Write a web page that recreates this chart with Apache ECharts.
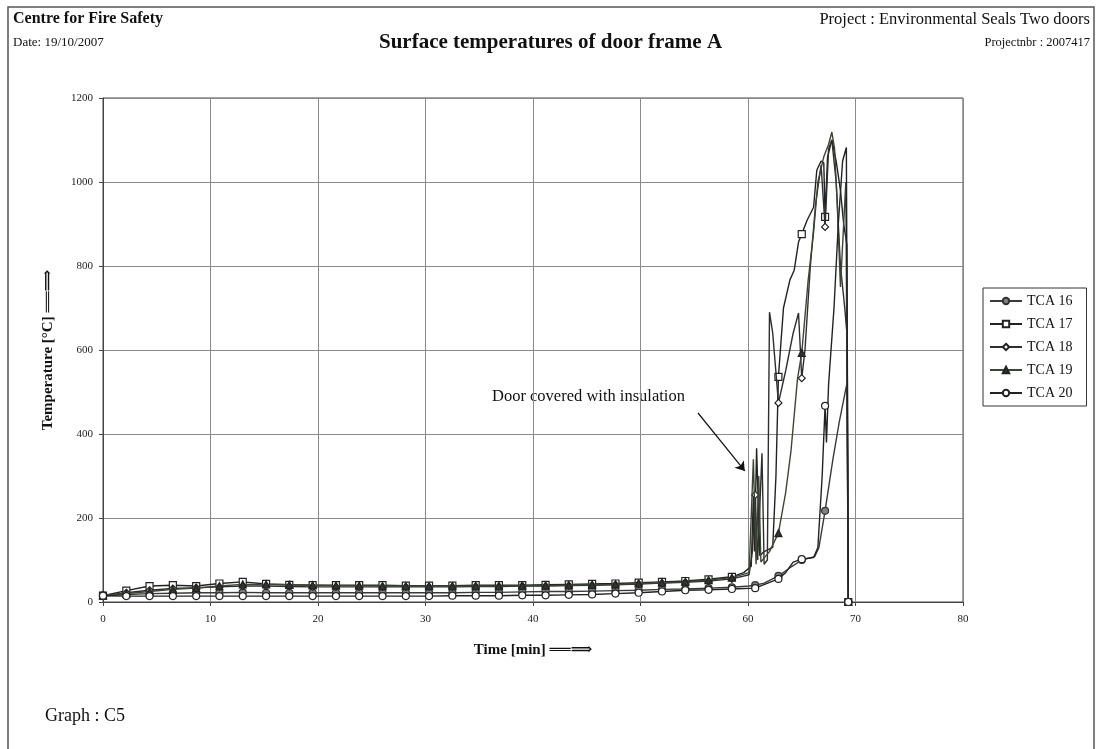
<!DOCTYPE html>
<html>
<head>
<meta charset="utf-8">
<script src="https://cdn.jsdelivr.net/npm/echarts@6/dist/echarts.min.js"></script>
<style>
html,body{margin:0;padding:0;background:#fff;}
#c{width:1101px;height:749px;}
</style>
</head>
<body>
<div id="c"></div>
<script>
// ---- data (time [min], temperature [°C]) ----
const seriesNames = ['TCA 16', 'TCA 17', 'TCA 18', 'TCA 19', 'TCA 20'];
const xTicks = [0, 10, 20, 30, 40, 50, 60, 70, 80];
const yTicks = [0, 200, 400, 600, 800, 1000, 1200];

const tca16 = [[0,15],[2.17,18],[4.33,20],[6.5,21],[8.67,22],[10.83,22],[13,23],[15.17,22],[17.33,22],[19.5,22],[21.67,22],[23.83,22],[26,22],[28.17,22],[30.33,22],[32.5,22],[34.67,23],[36.83,23],[39,24],[41.17,25],[43.33,25],[45.5,26],[47.67,27],[49.83,28],[52,30],[54.17,31],[56.33,33],[58.5,35],[60.1,38],[60.67,40],[61.5,45],[62.83,62],[64.1,85],[65,100],[66.2,108],[66.6,130],[67.17,217],[67.9,340],[68.5,430],[69.2,520],[69.33,0]];
const tca17 = [[0,15],[2.17,27],[4.33,38],[6.5,40],[8.67,38],[10.83,44],[13,48],[15.17,43],[17.33,41],[19.5,40],[21.67,40],[23.83,40],[26,40],[28.17,39],[30.33,39],[32.5,39],[34.67,40],[36.83,40],[39,40],[41.17,41],[43.33,42],[45.5,43],[47.67,44],[49.83,46],[52,48],[54.17,50],[56.33,54],[58.5,60],[59.6,70],[60.3,85],[60.5,250],[60.6,120],[60.8,366],[61.1,110],[61.5,120],[62.3,130],[62.6,300],[62.83,536],[63.3,700],[63.9,767],[64.3,790],[64.7,857],[65,876],[65.5,909],[66.1,940],[66.4,1028],[66.8,1050],[67.05,1045],[67.17,917],[67.4,1060],[67.8,1100],[68.2,1050],[68.6,980],[68.9,900],[69.2,850],[69.33,0]];
const tca18 = [[0,15],[2.17,22],[4.33,28],[6.5,32],[8.67,34],[10.83,36],[13,38],[15.17,38],[17.33,37],[19.5,36],[21.67,36],[23.83,36],[26,36],[28.17,36],[30.33,36],[32.5,36],[34.67,37],[36.83,37],[39,38],[41.17,38],[43.33,39],[45.5,40],[47.67,41],[49.83,43],[52,45],[54.17,47],[56.33,50],[58.5,55],[60.1,65],[60.4,120],[60.67,255],[60.9,100],[61.3,354],[61.5,90],[61.8,100],[62.0,690],[62.3,640],[62.83,474],[63.5,550],[64.2,640],[64.7,688],[65,533],[65.3,600],[65.8,800],[66.3,950],[66.8,1040],[67.17,893],[67.5,1080],[67.8,1100],[68.2,1000],[68.6,800],[69.0,700],[69.2,640],[69.33,0]];
const tca19 = [[0,15],[2.17,20],[4.33,25],[6.5,30],[8.67,33],[10.83,38],[13,42],[15.17,42],[17.33,41],[19.5,40],[21.67,39],[23.83,39],[26,38],[28.17,38],[30.33,38],[32.5,38],[34.67,38],[36.83,38],[39,39],[41.17,39],[43.33,40],[45.5,41],[47.67,42],[49.83,44],[52,46],[54.17,48],[56.33,52],[58.5,58],[60.1,70],[60.5,340],[60.75,90],[61.0,300],[61.2,95],[61.5,105],[62.0,120],[62.83,164],[63.5,260],[64.0,360],[64.6,530],[65,593],[65.3,680],[65.6,767],[66.1,880],[66.5,1000],[67.05,1060],[67.5,1090],[67.8,1119],[68.05,1080],[68.3,950],[68.6,750],[68.9,900],[69.1,1000],[69.33,0]];
const tca20 = [[0,15],[2.17,14],[4.33,14],[6.5,14],[8.67,14],[10.83,14],[13,14],[15.17,14],[17.33,14],[19.5,14],[21.67,14],[23.83,14],[26,14],[28.17,14],[30.33,14],[32.5,15],[34.67,15],[36.83,15],[39,16],[41.17,16],[43.33,17],[45.5,18],[47.67,20],[49.83,22],[52,25],[54.17,28],[56.33,29],[58.5,31],[60.67,33],[62.83,55],[63.5,70],[64.2,95],[65,102],[66.1,106],[66.5,130],[66.9,300],[67.17,467],[67.3,380],[67.5,520],[68.0,700],[68.4,900],[68.8,1050],[69.15,1082],[69.33,0]];

// annotation arrow (data coordinates)
const arrowFrom = [55.35, 450];
const arrowTo = [59.7, 312];

const serif = '"Liberation Serif", "DejaVu Serif", serif';
const chart = echarts.init(document.getElementById('c'));

function markerSize(v) {
  const k = v[0] * 60 / 130;
  return Math.abs(k - Math.round(k)) < 0.02 ? 7 : 0;
}

const styles = [
  { symbol: 'circle', line: '#3a3a3a', fill: '#808080', border: '#333' },
  { symbol: 'rect', line: '#222', fill: '#fff', border: '#222' },
  { symbol: 'diamond', line: '#2e2e2e', fill: '#fff', border: '#222' },
  { symbol: 'triangle', line: '#3b4634', fill: '#333', border: '#222' },
  { symbol: 'circle', line: '#222', fill: '#fff', border: '#222' }
];
const datasets = [tca16, tca17, tca18, tca19, tca20];

const series = seriesNames.map((name, i) => ({
  name: name,
  type: 'line',
  data: datasets[i],
  symbol: styles[i].symbol,
  symbolSize: markerSize,
  showAllSymbol: true,
  animation: false,
  lineStyle: { color: styles[i].line, width: 1.4 },
  itemStyle: { color: styles[i].fill, borderColor: styles[i].border, borderWidth: 1.2 },
  emphasis: { disabled: true },
  z: 3 + i
}));

series[4].markLine = {
  silent: true,
  symbol: ['none', 'arrow'],
  symbolSize: 9,
  label: { show: false },
  lineStyle: { color: '#111', width: 1.2, type: 'solid' },
  data: [[{ coord: arrowFrom }, { coord: arrowTo }]]
};

const arrowTxt = '\u2550\u2550\u27F9';

chart.setOption({
  animation: false,
  backgroundColor: '#fff',
  grid: { left: 103, top: 98, width: 860, height: 504, show: true, borderColor: '#444', borderWidth: 1 },
  xAxis: {
    type: 'value', min: 0, max: 80, interval: 10,
    name: 'Time [min] ' + arrowTxt, nameLocation: 'middle', nameGap: 41,
    nameTextStyle: { fontFamily: serif, fontSize: 15, fontWeight: 'bold', color: '#111' },
    axisLine: { onZero: false, lineStyle: { color: '#444' } },
    axisTick: { show: true, length: 4, lineStyle: { color: '#444' } },
    axisLabel: { fontFamily: serif, fontSize: 11, color: '#222', margin: 12,
      formatter: v => xTicks.includes(v) ? String(v) : '' },
    splitLine: { show: true, lineStyle: { color: '#8a8a8a', width: 1 } }
  },
  yAxis: {
    type: 'value', min: 0, max: 1200, interval: 200,
    name: 'Temperature [\u00B0C] ' + arrowTxt, nameLocation: 'middle', nameGap: 47, nameRotate: 90,
    nameTextStyle: { fontFamily: serif, fontSize: 15, fontWeight: 'bold', color: '#111' },
    axisLine: { show: true, lineStyle: { color: '#444' } },
    axisTick: { show: true, length: 4, lineStyle: { color: '#444' } },
    axisLabel: { fontFamily: serif, fontSize: 11, color: '#222', margin: 10,
      formatter: v => yTicks.includes(v) ? String(v) : '' },
    splitLine: { show: true, lineStyle: { color: '#8a8a8a', width: 1 } }
  },
  legend: {
    orient: 'vertical', left: 983, top: 288,
    data: seriesNames,
    itemWidth: 32, itemHeight: 8, itemGap: 9,
    padding: [6, 14, 6, 6],
    borderColor: '#333', borderWidth: 1,
    textStyle: { fontFamily: serif, fontSize: 14, color: '#111' },
    selectedMode: false
  },
  graphic: [
    { type: 'rect', shape: { x: 8, y: 7, width: 1086, height: 760 },
      style: { fill: 'none', stroke: '#555', lineWidth: 1.5 }, silent: true, z: 0 },
    { type: 'text', left: 13, top: 11,
      style: { text: 'Centre for Fire Safety', font: 'bold 16px ' + serif, fill: '#111' } },
    { type: 'text', left: 13, top: 36,
      style: { text: 'Date: 19/10/2007', font: '13px ' + serif, fill: '#111' } },
    { type: 'text', left: 'center', top: 32,
      style: { text: 'Surface temperatures of door frame A', font: 'bold 21px ' + serif, fill: '#111', x: 4 } },
    { type: 'text', right: 11, top: 11,
      style: { text: 'Project : Environmental Seals Two doors', font: '16.5px ' + serif, fill: '#111' } },
    { type: 'text', right: 11, top: 36,
      style: { text: 'Projectnbr : 2007417', font: '12.5px ' + serif, fill: '#111' } },
    { type: 'text', left: 492, top: 388,
      style: { text: 'Door covered with insulation', font: '16.5px ' + serif, fill: '#111' } },
    { type: 'text', left: 45, top: 707,
      style: { text: 'Graph : C5', font: '18px ' + serif, fill: '#111' } }
  ],
  series: series
});
</script>
</body>
</html>
